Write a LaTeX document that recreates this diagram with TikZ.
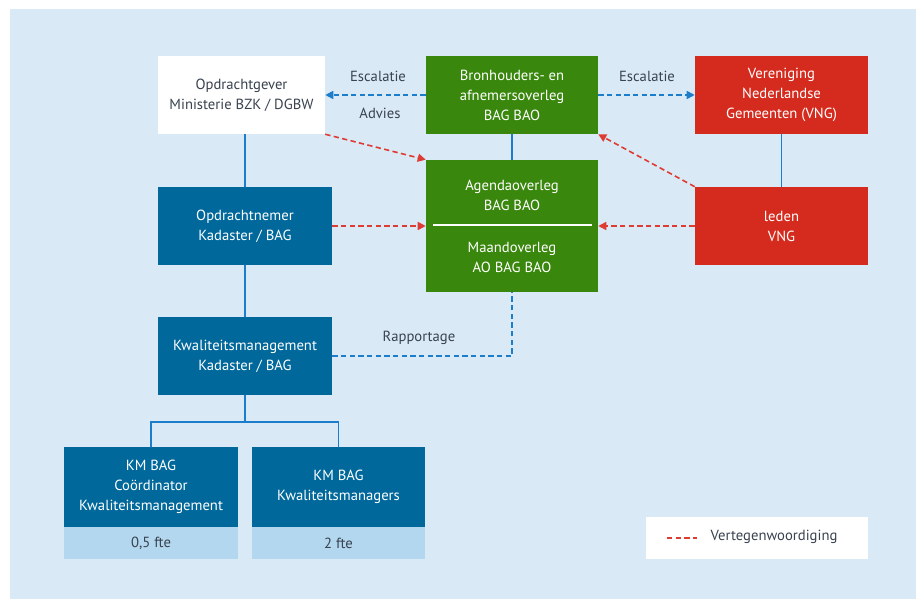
\documentclass[tikz,border=0pt]{standalone}
\usepackage{fontspec}
\setmainfont{PT Sans}
\usetikzlibrary{arrows.meta}
\definecolor{achtergrond}{HTML}{D9EAF6}
\definecolor{donkerblauw}{HTML}{01689B}
\definecolor{lichtblauw}{HTML}{B2D7EE}
\definecolor{rijksgroen}{HTML}{39870C}
\definecolor{rijksrood}{HTML}{D52B1E}
\definecolor{lijnblauw}{HTML}{1C7ECB}
\definecolor{stippelrood}{HTML}{DE3B33}
\definecolor{tekstgrijs}{HTML}{39424F}
\tikzset{
  blok/.style={inner sep=0pt, align=center, text=white,
    font=\fontsize{11}{15}\selectfont},
  witblok/.style={blok, fill=white, text=tekstgrijs},
  blauwblok/.style={blok, fill=donkerblauw},
  groenblok/.style={blok, fill=rijksgroen},
  roodblok/.style={blok, fill=rijksrood},
  fteblok/.style={blok, fill=lichtblauw, text=tekstgrijs},
  lijn/.style={draw=lijnblauw, line width=1.2pt},
  escalatie/.style={draw=lijnblauw, line width=1.2pt, dash pattern=on 4pt off 2.5pt,
    -{Triangle[length=6pt,width=6pt]}},
  vertegenw/.style={draw=stippelrood, line width=1.2pt, dash pattern=on 4pt off 2.5pt,
    -{Triangle[length=6pt,width=6pt]}},
  label/.style={text=tekstgrijs, font=\fontsize{11}{15}\selectfont}
}
\begin{document}
\begin{tikzpicture}[x=0.75pt, y=-0.75pt]
\useasboundingbox (0,0) rectangle (916,599);
\fill[achtergrond] (10,9) rectangle (916,599);

% bovenste rij
\node[witblok, minimum width=167*0.75pt, minimum height=78*0.75pt] (opdrgever) at (241.5,95)
  {Opdrachtgever\\Ministerie BZK / DGBW};
\node[groenblok, minimum width=172*0.75pt, minimum height=78*0.75pt] (bronoverleg) at (512,95)
  {Bronhouders- en\\afnemersoverleg\\BAG BAO};
\node[roodblok, minimum width=173*0.75pt, minimum height=78*0.75pt] (vng) at (781.5,95)
  {Vereniging\\Nederlandse\\Gemeenten (VNG)};

% middelste rij
\node[blauwblok, minimum width=174*0.75pt, minimum height=78*0.75pt] (opdrnemer) at (245,226)
  {Opdrachtnemer\\Kadaster / BAG};
\node[groenblok, minimum width=172*0.75pt, minimum height=132*0.75pt] (agenda) at (512,226) {};
\node[blok] (agendatop) at (512,195) {Agendaoverleg\\BAG BAO};
\node[blok] (agendabot) at (512,257) {Maandoverleg\\AO BAG BAO};
\draw[white, line width=1pt] (433,225) -- (592,225);
\node[roodblok, minimum width=173*0.75pt, minimum height=78*0.75pt] (leden) at (781.5,226)
  {leden\\VNG};

% kwaliteitsmanagement
\node[blauwblok, minimum width=174*0.75pt, minimum height=78*0.75pt] (kwalmgmt) at (245,356)
  {Kwaliteitsmanagement\\Kadaster / BAG};
\node[blauwblok, minimum width=174*0.75pt, minimum height=80*0.75pt] (kmcoord) at (151,487)
  {KM BAG\\Coördinator\\Kwaliteitsmanagement};
\node[fteblok, minimum width=174*0.75pt, minimum height=32*0.75pt] (fte1) at (151,543) {0,5 fte};
\node[blauwblok, minimum width=173*0.75pt, minimum height=80*0.75pt] (kmmanagers) at (338.5,487)
  {KM BAG\\Kwaliteitsmanagers};
\node[fteblok, minimum width=173*0.75pt, minimum height=32*0.75pt] (fte2) at (338.5,543) {2 fte};

% legenda
\node[witblok, minimum width=222*0.75pt, minimum height=42*0.75pt] (legenda) at (757,538) {};
\coordinate (legA) at (667,538);
\coordinate (legB) at (697,538);
\draw[draw=stippelrood, line width=1.2pt, dash pattern=on 4pt off 2.5pt] (legA) -- (legB);
\node[label, anchor=west] (legtekst) at (706,537) {Vertegenwoordiging};

% lijnen
\draw[lijn] (opdrnemer.north) -- (opdrnemer.north |- opdrgever.south);
\draw[lijn] (opdrnemer) -- (kwalmgmt);
\draw[lijn] (bronoverleg) -- (agenda);
\draw[lijn] (vng) -- (leden);
\draw[lijn] (kwalmgmt.south) -- ++(0,27) coordinate (tak);
\draw[lijn] (kmcoord.north) |- (tak) -| (kmmanagers.north);

% escalatie
\draw[escalatie] (bronoverleg.west) -- (opdrgever.east);
\draw[escalatie] (bronoverleg.east) -- (vng.west);
\node[label] (esc1) at (378,76) {Escalatie};
\node[label] (advies) at (380,113) {Advies};
\node[label] (esc2) at (647,76) {Escalatie};

% rapportage
\draw[lijn, dash pattern=on 4pt off 2.5pt] (kwalmgmt.east) -| (agenda.south);
\node[label] (rapp) at (419,338) {Rapportage};

% vertegenwoordiging
\draw[vertegenw] (opdrgever.south east) -- (agenda.north west);
\draw[vertegenw] (opdrnemer.east) -- (agenda.west);
\draw[vertegenw] (leden.west) -- (agenda.east);
\draw[vertegenw] (leden.north west) -- (bronoverleg.south east);
\end{tikzpicture}
\end{document}
